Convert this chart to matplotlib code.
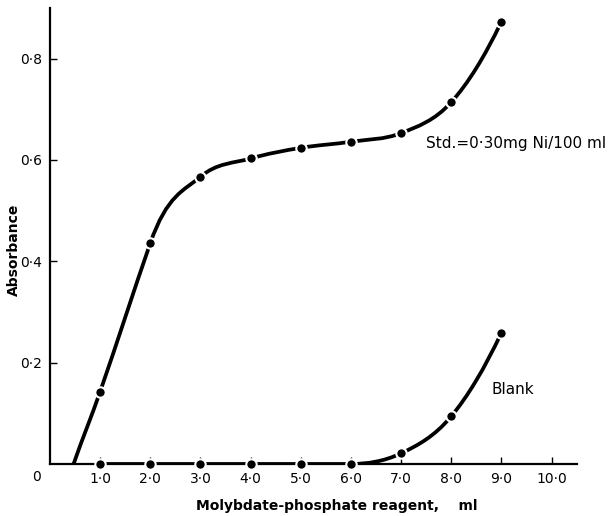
import matplotlib
matplotlib.use('Agg')
import matplotlib.pyplot as plt
from matplotlib.path import Path
from matplotlib.patches import PathPatch

# values
std_x = [0.47, 1.0, 2.0, 3.0, 4.0, 5.0, 6.0, 7.0, 8.0, 9.0]
std_y = [0.0, 0.143, 0.436, 0.567, 0.603, 0.624, 0.636, 0.653, 0.714, 0.873]
blank_x = [1.0, 2.0, 3.0, 4.0, 5.0, 6.0, 7.0, 8.0, 9.0]
blank_y = [0.0, 0.0, 0.0, 0.0, 0.0, 0.0, 0.021, 0.094, 0.259]
xticks = [1, 2, 3, 4, 5, 6, 7, 8, 9, 10]
xtick_labels = ['1·0', '2·0', '3·0', '4·0', '5·0', '6·0', '7·0', '8·0', '9·0', '10·0']
yticks = [0.2, 0.4, 0.6, 0.8]
ytick_labels = ['0·2', '0·4', '0·6', '0·8']


def smooth_path(xs, ys, straight=0):
    # hand-drawn style curve: cubic bezier segments through the points
    # the first `straight` segments are kept as a straight line
    n = len(xs)
    d = [(ys[i + 1] - ys[i]) / (xs[i + 1] - xs[i]) for i in range(n - 1)]
    m = [0.0] * n
    for i in range(1, n - 1):
        if d[i - 1] * d[i] <= 0:
            m[i] = 0.0
        else:
            m[i] = (ys[i + 1] - ys[i - 1]) / (xs[i + 1] - xs[i - 1])
    m[0] = 2 * d[0] - m[1] if d[0] != 0 else 0.0
    m[-1] = 2 * d[-1] - m[-2] if d[-1] != 0 else 0.0
    if straight:
        s = (ys[straight] - ys[0]) / (xs[straight] - xs[0])
        for i in range(straight + 1):
            m[i] = s
    verts = [(xs[0], ys[0])]
    codes = [Path.MOVETO]
    for i in range(n - 1):
        h = xs[i + 1] - xs[i]
        verts += [(xs[i] + h / 3, ys[i] + m[i] * h / 3),
                  (xs[i + 1] - h / 3, ys[i + 1] - m[i + 1] * h / 3),
                  (xs[i + 1], ys[i + 1])]
        codes += [Path.CURVE4] * 3
    return Path(verts, codes)


fig = plt.figure(figsize=(6.13, 5.16), dpi=100)
ax = fig.add_axes([0.0816, 0.1008, 0.859, 0.8837])

ax.add_patch(PathPatch(smooth_path(std_x, std_y, straight=2), fill=False,
                       lw=2.7, color='black', capstyle='butt', zorder=3))
ax.add_patch(PathPatch(smooth_path(blank_x, blank_y), fill=False,
                       lw=2.7, color='black', capstyle='butt', zorder=3))

ax.plot(std_x[1:], std_y[1:], 'o', color='black', ms=7.5, mec='white',
        mew=1.5, zorder=4)
ax.plot(blank_x, blank_y, 'o', color='black', ms=7.5, mec='white',
        mew=1.5, zorder=4, clip_on=False)

ax.set_xlim(0, 10.5)
ax.set_ylim(0, 0.9)
ax.spines['top'].set_visible(False)
ax.spines['right'].set_visible(False)
ax.spines['left'].set_linewidth(1.6)
ax.spines['bottom'].set_linewidth(1.6)

ax.set_xticks(xticks)
ax.set_xticklabels(xtick_labels)
ax.set_yticks(yticks)
ax.set_yticklabels(ytick_labels)
ax.tick_params(direction='in', length=5, width=1.0, labelsize=10, pad=6)

ax.text(-0.18, -0.012, '0', transform=ax.transData, ha='right', va='top',
        fontsize=10)

ax.set_xlabel('Molybdate-phosphate reagent,    ml', fontsize=10,
              fontweight='bold')
ax.xaxis.set_label_coords(0.545, -0.077)
ax.set_ylabel('Absorbance', fontsize=10, fontweight='bold')
ax.yaxis.set_label_coords(-0.056, 0.47)

ax.text(7.5, 0.633, 'Std.=0·30mg Ni/100 ml', fontsize=11, va='center',
        ha='left', clip_on=False)
ax.text(8.8, 0.147, 'Blank', fontsize=11, va='center', ha='left')

fig.savefig('out.png', dpi=100)
